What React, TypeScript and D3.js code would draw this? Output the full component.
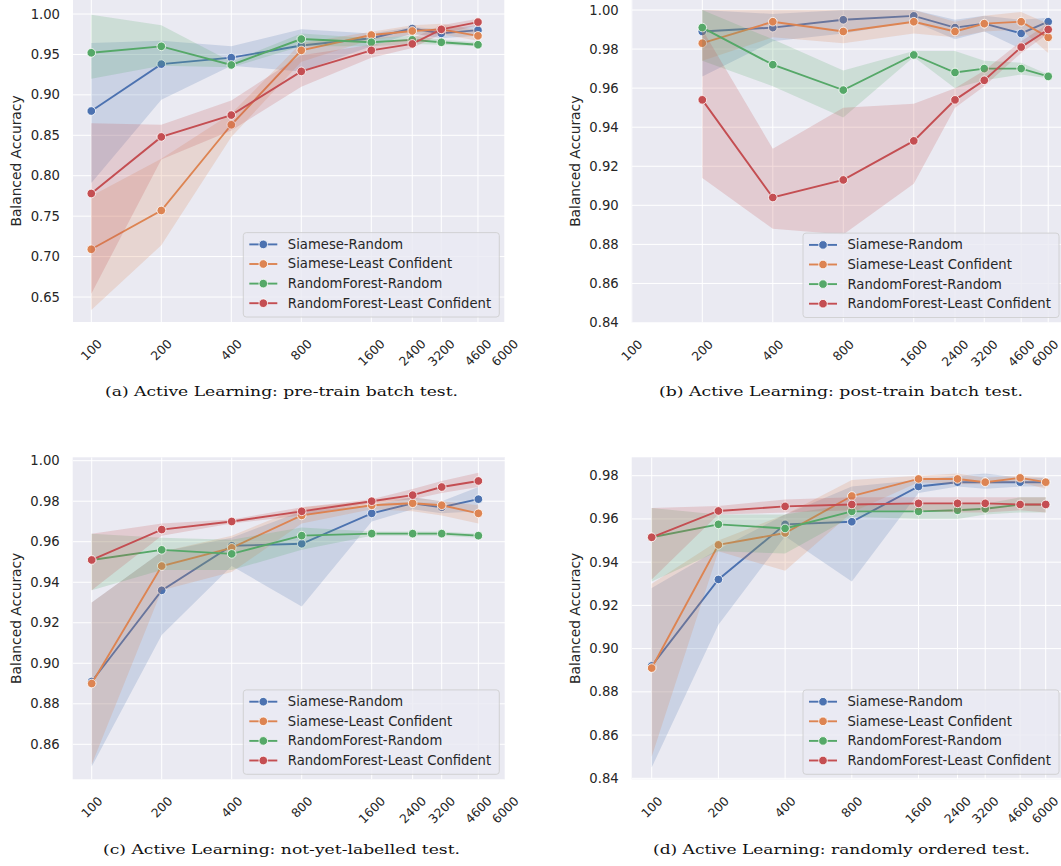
import * as d3 from "d3";
import { useEffect, useRef } from "react";

const seriesNames = [
  "Siamese-Random",
  "Siamese-Least Confident",
  "RandomForest-Random",
  "RandomForest-Least Confident",
];
const colors = ["#4c72b0", "#dd8452", "#55a868", "#c44e52"];
const xTickLabels = ["100", "200", "400", "800", "1600", "2400", "3200", "4600", "6000"];

// each point: [mean, lower, upper]
// (a) pre-train batch test
const preX = [100, 200, 400, 800, 1600, 2400, 3200, 4600];
const preSR = [[0.880, 0.791, 0.964], [0.938, 0.894, 0.967], [0.946, 0.936, 0.960], [0.961, 0.929, 0.981], [0.970, 0.960, 0.976], [0.982, 0.976, 0.984], [0.976, 0.970, 0.981], [0.980, 0.973, 0.986]];
const preSLC = [[0.709, 0.634, 0.775], [0.757, 0.714, 0.821], [0.863, 0.848, 0.877], [0.955, 0.941, 0.964], [0.974, 0.968, 0.978], [0.979, 0.974, 0.986], [0.981, 0.975, 0.988], [0.973, 0.967, 0.980]];
const preRFR = [[0.952, 0.920, 0.999], [0.960, 0.936, 0.986], [0.937, 0.934, 0.941], [0.969, 0.960, 0.976], [0.965, 0.960, 0.970], [0.968, 0.963, 0.973], [0.965, 0.962, 0.968], [0.962, 0.960, 0.965]];
const preRFLC = [[0.778, 0.654, 0.865], [0.848, 0.820, 0.863], [0.875, 0.856, 0.893], [0.929, 0.910, 0.949], [0.955, 0.946, 0.962], [0.963, 0.958, 0.970], [0.981, 0.975, 0.986], [0.990, 0.986, 0.994]];

// (b) post-train batch test
const postX = [200, 400, 800, 1600, 2400, 3200, 4600, 6000];
const postSR = [[0.989, 0.966, 1.0], [0.991, 0.984, 0.998], [0.995, 0.988, 1.0], [0.997, 0.994, 1.0], [0.991, 0.985, 0.995], [0.993, 0.989, 0.997], [0.988, 0.980, 0.995], [0.994, 0.992, 0.996]];
const postSLC = [[0.983, 0.974, 1.0], [0.994, 0.986, 1.0], [0.989, 0.983, 1.0], [0.994, 0.988, 1.0], [0.989, 0.986, 0.994], [0.993, 0.989, 0.997], [0.994, 0.990, 0.999], [0.986, 0.978, 0.993]];
const postRFR = [[0.991, 0.974, 1.0], [0.972, 0.961, 0.985], [0.959, 0.945, 0.969], [0.977, 0.976, 0.979], [0.968, 0.960, 0.979], [0.970, 0.964, 0.974], [0.970, 0.967, 0.973], [0.966, 0.965, 0.967]];
const postRFLC = [[0.954, 0.914, 0.990], [0.904, 0.888, 0.929], [0.913, 0.885, 0.950], [0.933, 0.911, 0.952], [0.954, 0.950, 0.960], [0.964, 0.961, 0.969], [0.981, 0.978, 0.984], [0.990, 0.988, 0.993]];

// (c) not-yet-labelled test
const nylX = [100, 200, 400, 800, 1600, 2400, 3200, 4600];
const nylSR = [[0.891, 0.849, 0.930], [0.936, 0.914, 0.955], [0.958, 0.948, 0.962], [0.959, 0.928, 0.975], [0.974, 0.970, 0.978], [0.979, 0.976, 0.982], [0.977, 0.974, 0.980], [0.981, 0.975, 0.987]];
const nylSLC = [[0.890, 0.850, 0.930], [0.948, 0.936, 0.955], [0.957, 0.945, 0.963], [0.973, 0.969, 0.977], [0.978, 0.976, 0.980], [0.979, 0.975, 0.982], [0.978, 0.973, 0.980], [0.974, 0.969, 0.978]];
const nylRFR = [[0.951, 0.936, 0.964], [0.956, 0.946, 0.962], [0.954, 0.946, 0.961], [0.963, 0.956, 0.967], [0.964, 0.963, 0.965], [0.964, 0.963, 0.965], [0.964, 0.963, 0.965], [0.963, 0.962, 0.964]];
const nylRFLC = [[0.951, 0.936, 0.964], [0.966, 0.963, 0.969], [0.970, 0.969, 0.971], [0.975, 0.973, 0.977], [0.980, 0.979, 0.981], [0.983, 0.981, 0.986], [0.987, 0.984, 0.990], [0.990, 0.987, 0.994]];

// (d) randomly ordered test
const rndX = [100, 200, 400, 800, 1600, 2400, 3200, 4600, 6000];
const rndSR = [[0.892, 0.845, 0.928], [0.932, 0.911, 0.946], [0.9575, 0.952, 0.962], [0.9587, 0.931, 0.975], [0.975, 0.972, 0.978], [0.977, 0.975, 0.980], [0.977, 0.974, 0.981], [0.977, 0.975, 0.979], [0.977, 0.975, 0.979]];
const rndSLC = [[0.891, 0.850, 0.930], [0.948, 0.945, 0.950], [0.9535, 0.936, 0.962], [0.9706, 0.963, 0.978], [0.9785, 0.977, 0.980], [0.9785, 0.976, 0.981], [0.977, 0.976, 0.979], [0.979, 0.977, 0.980], [0.977, 0.974, 0.979]];
const rndRFR = [[0.9515, 0.931, 0.965], [0.9575, 0.945, 0.962], [0.9556, 0.944, 0.962], [0.9635, 0.961, 0.967], [0.9635, 0.960, 0.967], [0.964, 0.960, 0.967], [0.9647, 0.962, 0.967], [0.9666, 0.963, 0.970], [0.9666, 0.963, 0.970]];
const rndRFLC = [[0.9515, 0.932, 0.965], [0.9637, 0.962, 0.966], [0.9658, 0.963, 0.969], [0.9667, 0.964, 0.970], [0.9672, 0.964, 0.970], [0.9672, 0.963, 0.970], [0.9672, 0.963, 0.970], [0.9667, 0.964, 0.970], [0.9667, 0.963, 0.970]];

const panels = [
  {
    id: "a", caption: "(a) Active Learning: pre-train batch test.", capX: 281.5, capY: 396, capW: 353,
    box: { l: 73, r: 505, t: 0, b: 322 }, xr: [91.3, 504.8],
    yd: [0.65, 1.0], yr: [297, 14], yTicks: d3.range(0.65, 1.001, 0.05),
    x: preX, series: [preSR, preSLC, preRFR, preRFLC],
  },
  {
    id: "b", caption: "(b) Active Learning: post-train batch test.", capX: 841, capY: 396, capW: 364,
    box: { l: 631.7, r: 1065, t: 0, b: 322.5 }, xr: [631.8, 1048.2],
    yd: [0.84, 1.0], yr: [322.5, 10], yTicks: d3.range(0.84, 1.001, 0.02),
    x: postX, series: [postSR, postSLC, postRFR, postRFLC],
  },
  {
    id: "c", caption: "(c) Active Learning: not-yet-labelled test.", capX: 281.5, capY: 854, capW: 357,
    box: { l: 72.7, r: 505, t: 457.3, b: 779.3 }, xr: [91.7, 505.2],
    yd: [0.86, 1.0], yr: [744.3, 460.7], yTicks: d3.range(0.86, 1.001, 0.02),
    x: nylX, series: [nylSR, nylSLC, nylRFR, nylRFLC],
  },
  {
    id: "d", caption: "(d) Active Learning: randomly ordered test.", capX: 841.5, capY: 854, capW: 377,
    box: { l: 631.7, r: 1065, t: 457.3, b: 779.3 }, xr: [651.7, 1045.7],
    yd: [0.84, 0.98], yr: [778.3, 475.7], yTicks: d3.range(0.84, 0.981, 0.02),
    x: rndX, series: [rndSR, rndSLC, rndRFR, rndRFLC],
  },
];

const FONT = "DejaVu Sans, sans-serif";
const TEXT = "#262626";

export default function App() {
  const ref = useRef<SVGSVGElement>(null);

  useEffect(() => {
    const svg = d3.select(ref.current);
    svg.selectAll("*").remove();

    panels.forEach((p) => {
      const { box } = p;
      const x = d3.scaleLog().domain([100, 6000]).range(p.xr);
      const y = d3.scaleLinear().domain(p.yd).range(p.yr);
      const g = svg.append("g");

      g.append("clipPath")
        .attr("id", "clip-" + p.id)
        .append("rect")
        .attr("x", box.l).attr("y", box.t)
        .attr("width", box.r - box.l).attr("height", box.b - box.t);

      g.append("rect")
        .attr("x", box.l).attr("y", box.t)
        .attr("width", box.r - box.l).attr("height", box.b - box.t)
        .attr("fill", "#eaeaf2");

      // grid
      const grid = g.append("g").attr("clip-path", `url(#clip-${p.id})`);
      grid.selectAll("line.v").data(xTickLabels).join("line")
        .attr("x1", (d) => x(+d)).attr("x2", (d) => x(+d))
        .attr("y1", box.t).attr("y2", box.b)
        .attr("stroke", "#fff").attr("stroke-width", 1);
      grid.selectAll("line.h").data(p.yTicks).join("line")
        .attr("x1", box.l).attr("x2", box.r)
        .attr("y1", (d) => y(d)).attr("y2", (d) => y(d))
        .attr("stroke", "#fff").attr("stroke-width", 1);

      // y tick labels
      g.selectAll("text.yt").data(p.yTicks).join("text")
        .attr("x", box.l - 13).attr("y", (d) => y(d))
        .attr("text-anchor", "end").attr("dominant-baseline", "central")
        .attr("font-family", FONT).attr("font-size", 13.2).attr("fill", TEXT)
        .text((d) => d.toFixed(2));

      // x tick labels, rotated 45 (kept inside the page on the right)
      const fs = 12.4;
      g.selectAll("text.xt").data(xTickLabels).join("text")
        .each(function (d) {
          const w = d.length * 0.636 * fs;
          const half = ((w + fs) * 0.7071) / 2;
          const cx = Math.min(x(+d), 1045);
          const cy = box.b + 15 + half;
          d3.select(this)
            .attr("x", cx).attr("y", cy)
            .attr("transform", `rotate(-45 ${cx} ${cy})`);
        })
        .attr("text-anchor", "middle").attr("dominant-baseline", "central")
        .attr("font-family", FONT).attr("font-size", fs).attr("fill", TEXT)
        .text((d) => d);

      // y label
      const ly = (box.t + box.b) / 2;
      const lx = box.l - 57;
      g.append("text")
        .attr("x", lx).attr("y", ly)
        .attr("transform", `rotate(-90 ${lx} ${ly})`)
        .attr("text-anchor", "middle").attr("dominant-baseline", "central")
        .attr("font-family", FONT).attr("font-size", 13.8).attr("fill", TEXT)
        .text("Balanced Accuracy");

      // bands + lines
      const plot = g.append("g").attr("clip-path", `url(#clip-${p.id})`);
      p.series.forEach((s, i) => {
        const pts = s.map((v, j) => ({ x: p.x[j], m: v[0], lo: v[1], hi: v[2] }));
        const area = d3.area<any>().x((d) => x(d.x)).y0((d) => y(d.lo)).y1((d) => y(d.hi));
        const line = d3.line<any>().x((d) => x(d.x)).y((d) => y(d.m));
        plot.append("path").attr("d", area(pts)).attr("fill", colors[i]).attr("fill-opacity", 0.2);
        plot.append("path").attr("d", line(pts)).attr("fill", "none")
          .attr("stroke", colors[i]).attr("stroke-width", 1.9);
        plot.selectAll(null).data(pts).join("circle")
          .attr("cx", (d) => x(d.x)).attr("cy", (d) => y(d.m)).attr("r", 4.3)
          .attr("fill", colors[i]).attr("stroke", "#fff").attr("stroke-width", 0.8);
      });

      // legend
      const lw = 256, lh = 84.4;
      const lgX = Math.min(box.r, 1064.7) - 5.7 - lw;
      const lgY = box.b - 5 - lh;
      const lg = g.append("g").attr("transform", `translate(${lgX},${lgY})`);
      lg.append("rect").attr("width", lw).attr("height", lh).attr("rx", 3)
        .attr("fill", "#eaeaf2").attr("fill-opacity", 0.8)
        .attr("stroke", "#cccccc").attr("stroke-width", 0.8);
      seriesNames.forEach((name, i) => {
        const ey = 11.8 + i * 19.6;
        lg.append("line").attr("x1", 6).attr("x2", 34).attr("y1", ey).attr("y2", ey)
          .attr("stroke", colors[i]).attr("stroke-width", 1.9);
        lg.append("circle").attr("cx", 20).attr("cy", ey).attr("r", 4.3)
          .attr("fill", colors[i]).attr("stroke", "#fff").attr("stroke-width", 0.8);
        lg.append("text").attr("x", 44.5).attr("y", ey)
          .attr("dominant-baseline", "central")
          .attr("font-family", FONT).attr("font-size", 13.2).attr("fill", TEXT)
          .text(name);
      });

      // caption
      svg.append("text")
        .attr("x", p.capX).attr("y", p.capY)
        .attr("text-anchor", "middle")
        .attr("font-family", "DejaVu Serif, serif").attr("font-size", 13.5).attr("fill", "#111")
        .attr("textLength", p.capW).attr("lengthAdjust", "spacingAndGlyphs")
        .text(p.caption);
    });
  }, []);

  return (
    <svg
      ref={ref}
      width={1061}
      height={866}
      style={{ position: "absolute", left: 0, top: 0, background: "#fff" }}
    />
  );
}
